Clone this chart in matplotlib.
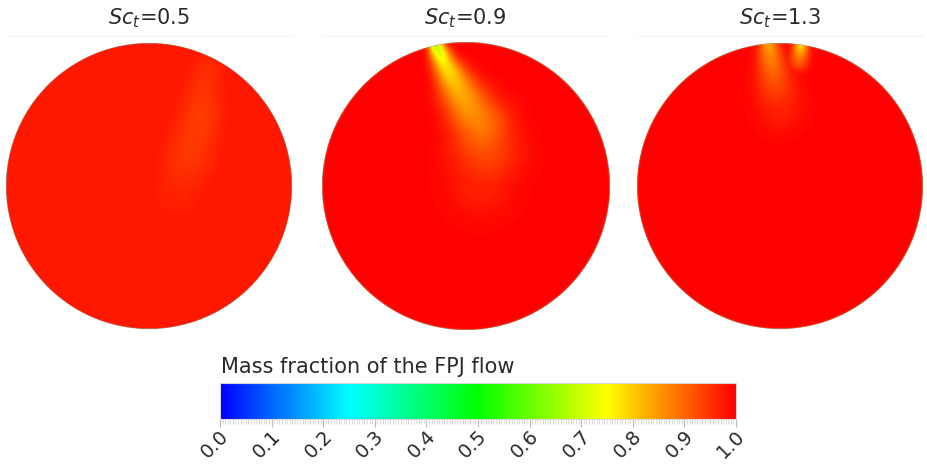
import numpy as np
import matplotlib
matplotlib.use("Agg")
import matplotlib.pyplot as plt
from matplotlib.colors import LinearSegmentedColormap, Normalize
from matplotlib.cm import ScalarMappable
from matplotlib.lines import Line2D
from matplotlib.transforms import ScaledTranslation

# Turbulent Schmidt numbers, one panel each
sc_values = ["0.5", "0.9", "1.3"]

# Background mass fraction inside each cross-section
background = [0.975, 0.997, 0.998]

# Plume centre lines (unit-circle coordinates),
# with the plume half-width and the mass fraction along each line
plume_x = [
    [[0.40, 0.36, 0.28, 0.20]],
    [[-0.22, -0.15, -0.04, 0.10, 0.13, 0.10]],
    [[-0.08, -0.05, 0.00], [0.15, 0.13]],
]
plume_y = [
    [[0.80, 0.50, 0.20, -0.02]],
    [[1.00, 0.85, 0.65, 0.42, 0.22, 0.02]],
    [[1.00, 0.80, 0.55], [1.00, 0.88]],
]
plume_w = [
    [[0.13, 0.15, 0.18, 0.21]],
    [[0.035, 0.06, 0.10, 0.14, 0.17, 0.17]],
    [[0.05, 0.08, 0.12], [0.035, 0.05]],
]
plume_val = [
    [[0.955, 0.94, 0.945, 0.962]],
    [[0.66, 0.77, 0.83, 0.875, 0.925, 0.965]],
    [[0.84, 0.90, 0.965], [0.77, 0.90]],
]

# Mass fraction right at the pipe wall
wall_val = [0.92, 0.92, 0.92]

cbar_ticks = [0.0, 0.1, 0.2, 0.3, 0.4, 0.5, 0.6, 0.7, 0.8, 0.9, 1.0]

cmap = LinearSegmentedColormap.from_list(
    "fpj", ["#0000ff", "#00ffff", "#00ff00", "#ffff00", "#ff0000"])

plt.rcParams['font.family'] = ['DejaVu Sans']
text_color = '#2a2a2a'

W, H = 927, 466
fig = plt.figure(figsize=(W / 100, H / 100), dpi=100)

# pixel boxes of each disk: left, top, right, bottom
boxes = [(6, 42, 292, 330), (322, 42, 609, 330), (637, 42, 923, 330)]

n = 1000
g = np.linspace(-1, 1, n)
X, Y = np.meshgrid(g, g)
R = np.hypot(X, Y)


def plume_deficit(xs, ys, ws, vs):
    """Deficit (1 - mass fraction) around one plume centre line."""
    best_d = np.full_like(X, np.inf)
    best_w = np.ones_like(X)
    best_v = np.ones_like(X)
    for k in range(len(xs) - 1):
        x0, y0, x1, y1 = xs[k], ys[k], xs[k + 1], ys[k + 1]
        dx, dy = x1 - x0, y1 - y0
        tt = ((X - x0) * dx + (Y - y0) * dy) / (dx * dx + dy * dy)
        tt = tt.clip(0, 1)
        d = np.hypot(X - (x0 + tt * dx), Y - (y0 + tt * dy))
        closer = d < best_d
        best_d = np.where(closer, d, best_d)
        best_w = np.where(closer, ws[k] + tt * (ws[k + 1] - ws[k]), best_w)
        best_v = np.where(closer, vs[k] + tt * (vs[k + 1] - vs[k]), best_v)
    return (1 - best_v) * np.exp(-best_d ** 2 / (2 * best_w ** 2))


for i, sc in enumerate(sc_values):
    l, t, r, b = boxes[i]
    ax = fig.add_axes([l / W, 1 - b / H, (r - l) / W, (b - t) / H])

    deficit = np.full_like(X, 1 - background[i])
    for xs, ys, ws, vs in zip(plume_x[i], plume_y[i], plume_w[i], plume_val[i]):
        deficit = np.maximum(deficit, plume_deficit(xs, ys, ws, vs))
    wall = (1 - wall_val[i]) * np.exp(-(1 - R).clip(0) / 0.005)
    deficit = np.maximum(deficit, wall)
    field = np.ma.masked_where(R > 1, 1 - deficit)

    ax.imshow(field, cmap=cmap, vmin=0, vmax=1, origin='lower',
              extent=(-1, 1, -1, 1), interpolation='antialiased')
    ax.set_xlim(-1, 1)
    ax.set_ylim(-1, 1)
    ax.axis('off')

    cx = (l + r) / 2 / W
    fig.text(cx, 1 - 18 / H, r'$\mathit{Sc}_t$=' + sc, ha='center',
             va='center', fontsize=15, color=text_color)
    # faint top border of each panel
    fig.add_artist(Line2D([l / W, r / W], [1 - 36 / H, 1 - 36 / H],
                          color='#f4f4f4', lw=0.8))

# colorbar
cax = fig.add_axes([220 / W, 1 - 419 / H, 516 / W, 36 / H])
sm = ScalarMappable(norm=Normalize(0, 1), cmap=cmap)
cb = fig.colorbar(sm, cax=cax, orientation='horizontal')
cb.outline.set_edgecolor('#d8d8d8')
cb.outline.set_linewidth(0.8)
cb.set_ticks(cbar_ticks)
cb.set_ticklabels([f'{v:.1f}' for v in cbar_ticks])
cax.set_xticks(np.arange(0, 1.0001, 0.005), minor=True)
cax.tick_params(axis='x', which='major', length=6, width=0.8,
                color='#bbbbbb', labelsize=14, labelcolor=text_color, pad=4)
cax.tick_params(axis='x', which='minor', length=3.5, width=0.5,
                color='#cccccc')
shift = ScaledTranslation(6 / 100, 0, fig.dpi_scale_trans)
for lab in cax.get_xticklabels():
    lab.set_rotation(45)
    lab.set_ha('right')
    lab.set_va('center')
    lab.set_rotation_mode('anchor')
    lab.set_transform(lab.get_transform() + shift)

fig.text(221 / W, 1 - 367 / H, 'Mass fraction of the FPJ flow',
         ha='left', va='center', fontsize=15, color=text_color)

fig.savefig('out.png', dpi=100)
